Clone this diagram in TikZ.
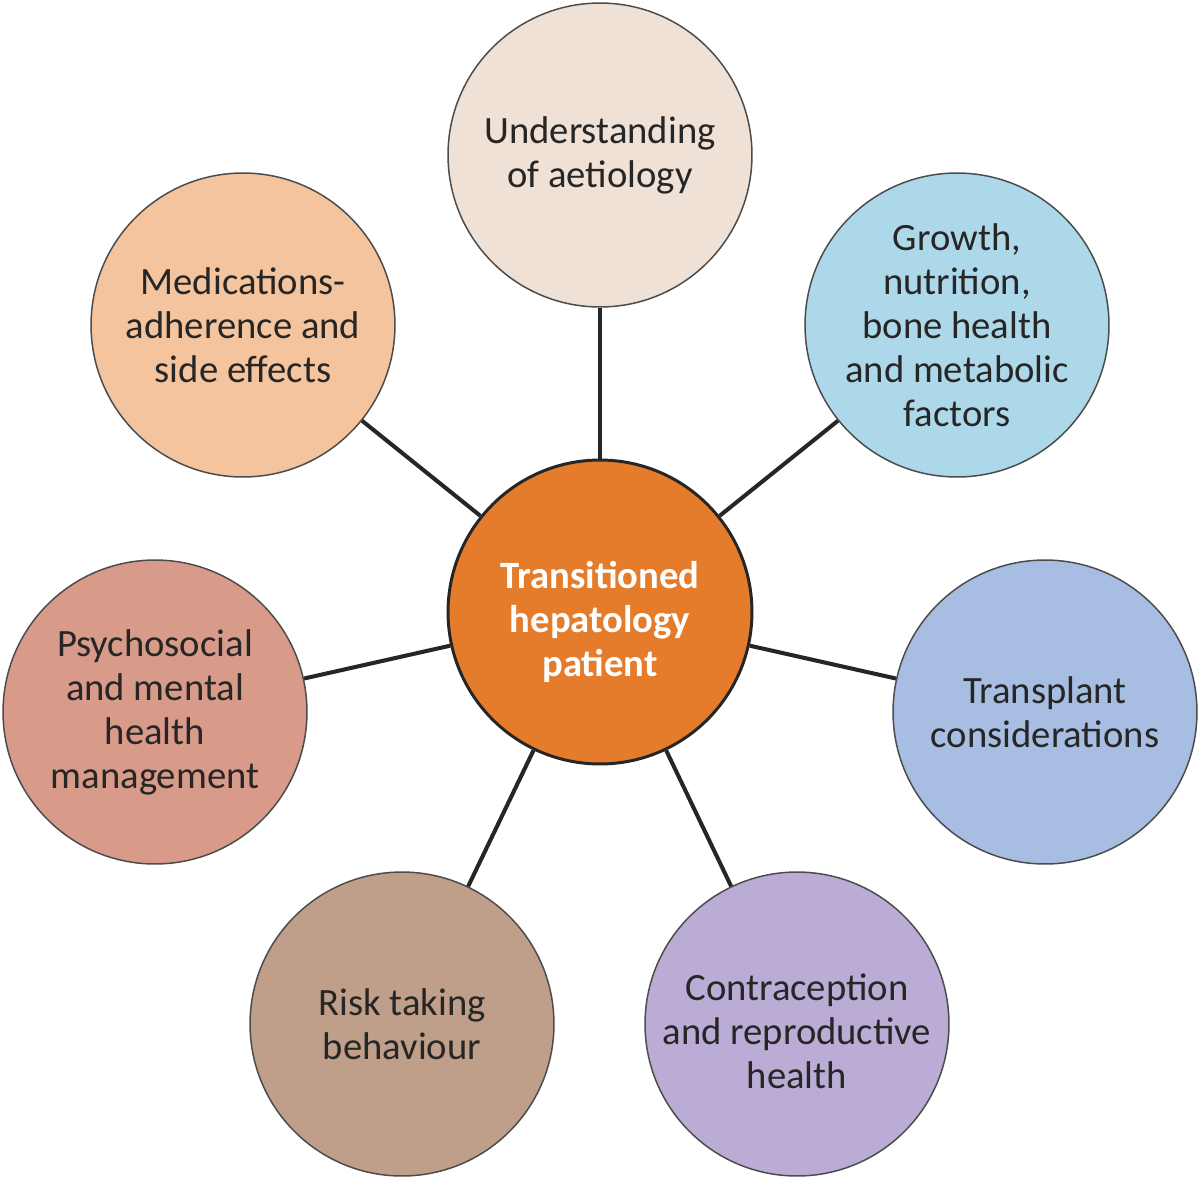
\documentclass[tikz,border=0pt]{standalone}
\usepackage{fontspec}
\setmainfont{Carlito}
\usetikzlibrary{positioning}

\definecolor{hubfill}{HTML}{E57C2B}
\definecolor{aetfill}{HTML}{EFE1D6}
\definecolor{growfill}{HTML}{ADD8EA}
\definecolor{txfill}{HTML}{A8BDE2}
\definecolor{contrafill}{HTML}{BAACD5}
\definecolor{riskfill}{HTML}{C09F8A}
\definecolor{psyfill}{HTML}{D89A89}
\definecolor{medfill}{HTML}{F3C49D}
\definecolor{inktext}{HTML}{262626}

\tikzset{
  topic/.style={circle, draw=black!70, line width=0.85pt, minimum size=6.08cm,
    inner sep=0pt, align=center, text=inktext,
    font=\fontsize{22}{25}\selectfont},
  hub/.style={topic, draw=black!85, line width=1.7pt, text=white,
    font=\bfseries\fontsize{22}{25}\selectfont},
  spoke/.style={line width=2.3pt, draw=black!85}
}

\begin{document}
\begin{tikzpicture}[x=0.02cm, y=-0.02cm]

\useasboundingbox (0,0) rectangle (1200,1178);

% --- Centre ---
\node[hub, fill=hubfill] (patient) at (600,612)
  {\rule{0pt}{27pt}Transitioned\\hepatology\\patient};

% --- Surrounding topics ---
\node[topic, fill=aetfill] (aetiology) at (600,155) {Understanding\\of aetiology};
\node[topic, fill=growfill] (growth) at (957,325) {Growth,\\nutrition,\\bone health\\and metabolic\\factors};
\node[topic, fill=txfill] (transplant) at (1045,712) {Transplant\\considerations};
\node[topic, fill=contrafill] (contra) at (797,1024)
  {\rule{0pt}{23pt}Contraception\\and reproductive\\health};
\node[topic, fill=riskfill] (risk) at (402,1024) {Risk taking\\behaviour};
\node[topic, fill=psyfill] (psych) at (155,712) {Psychosocial\\and mental\\health\\management};
\node[topic, fill=medfill] (meds) at (243,325) {Medications-\\adherence and\\side effects};

% --- Spokes ---
\foreach \t in {aetiology,growth,transplant,contra,risk,psych,meds}
  \draw[spoke] (patient) -- (\t);

\end{tikzpicture}
\end{document}
